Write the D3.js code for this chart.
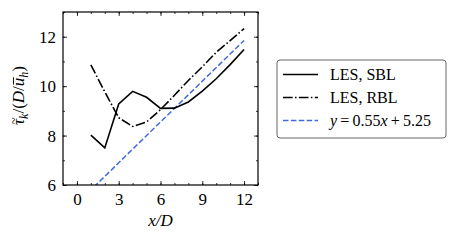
<!DOCTYPE html>
<html lang="en">
<head>
  <meta charset="UTF-8">
  <title>tau_k vs x/D</title>
  <style>
    body { margin: 0; padding: 0; background: #fff; }
  </style>
</head>
<body>
  <svg id="chart" width="458" height="245" font-family="Liberation Serif, serif"></svg>
  <script src="https://d3js.org/d3.v7.min.js"></script>
  <script>
    // data
    const xPos = [1, 2, 3, 4, 5, 6, 7, 8, 9, 10, 11, 12];
    const sbl = [8.02, 7.5, 9.28, 9.79, 9.55, 9.1, 9.11, 9.36, 9.8, 10.3, 10.87, 11.48];
    const rbl = [10.86, 9.77, 8.72, 8.37, 8.55, 9.05, 9.63, 10.23, 10.78, 11.37, 11.84, 12.33];
    const fitX = [0, 12];
    const slope = 0.55, intercept = 5.25;
    const xTicks = [0, 3, 6, 9, 12];
    const yTicks = [6, 8, 10, 12];

    const margin = { top: 12, left: 63 };
    const width = 195, height = 173;
    const serif = 'Liberation Serif, serif';

    const svg = d3.select('#chart');
    const g = svg.append('g')
      .attr('transform', `translate(${margin.left}, ${margin.top})`);

    const x = d3.scaleLinear().domain([-1, 13]).range([0, width]);
    const y = d3.scaleLinear().domain([6, 13]).range([height, 0]);

    g.append('clipPath').attr('id', 'clip')
      .append('rect').attr('width', width).attr('height', height);

    const line = d3.line().x(d => x(d[0])).y(d => y(d[1]));
    const plot = g.append('g').attr('clip-path', 'url(#clip)');

    // fitted line
    plot.append('path')
      .datum(fitX.map(v => [v, slope * v + intercept]))
      .attr('d', line)
      .attr('fill', 'none')
      .attr('stroke', '#4169e1')
      .attr('stroke-width', 1.5)
      .attr('stroke-dasharray', '5.5,2.4');

    plot.append('path')
      .datum(xPos.map((v, i) => [v, rbl[i]]))
      .attr('d', line)
      .attr('fill', 'none')
      .attr('stroke', '#000')
      .attr('stroke-width', 1.6)
      .attr('stroke-dasharray', '9.6,2.4,1.5,2.4');

    plot.append('path')
      .datum(xPos.map((v, i) => [v, sbl[i]]))
      .attr('d', line)
      .attr('fill', 'none')
      .attr('stroke', '#000')
      .attr('stroke-width', 1.6);

    // axes, ticks inward on all four sides
    const minorX = d3.range(-1, 14);
    const minorY = d3.range(6, 14);
    const styleAxis = sel => {
      sel.attr('font-family', serif).attr('font-size', 17);
      sel.select('.domain').remove();
      sel.selectAll('.tick line').attr('stroke', '#000').attr('stroke-width', 0.8);
      sel.selectAll('.tick text')
        .attr('fill', '#000')
        .attr('font-family', serif)
        .attr('font-size', 17);
    };

    g.append('g').attr('transform', `translate(0,${height})`)
      .call(d3.axisBottom(x).tickValues(xTicks).tickSize(-4).tickPadding(8).tickFormat(d3.format('d')))
      .call(styleAxis);
    g.append('g').attr('transform', `translate(0,${height})`)
      .call(d3.axisBottom(x).tickValues(minorX).tickSize(-2).tickFormat(''))
      .call(styleAxis);
    g.append('g')
      .call(d3.axisTop(x).tickValues(xTicks).tickSize(-4).tickFormat(''))
      .call(styleAxis);
    g.append('g')
      .call(d3.axisTop(x).tickValues(minorX).tickSize(-2).tickFormat(''))
      .call(styleAxis);

    g.append('g')
      .call(d3.axisLeft(y).tickValues(yTicks).tickSize(-4).tickPadding(7).tickFormat(d3.format('d')))
      .call(styleAxis);
    g.append('g')
      .call(d3.axisLeft(y).tickValues(minorY).tickSize(-2).tickFormat(''))
      .call(styleAxis);
    g.append('g').attr('transform', `translate(${width},0)`)
      .call(d3.axisRight(y).tickValues(yTicks).tickSize(-4).tickFormat(''))
      .call(styleAxis);
    g.append('g').attr('transform', `translate(${width},0)`)
      .call(d3.axisRight(y).tickValues(minorY).tickSize(-2).tickFormat(''))
      .call(styleAxis);

    g.append('rect')
      .attr('width', width).attr('height', height)
      .attr('fill', 'none').attr('stroke', '#000').attr('stroke-width', 1.2);

    // x label
    g.append('text')
      .attr('x', width / 2).attr('y', height + 41)
      .attr('text-anchor', 'middle')
      .attr('font-size', 17).attr('font-style', 'italic')
      .text('x/D');

    // y label: tau tilde_k / (D / u bar_h)
    const ylg = svg.append('g')
      .attr('transform', `translate(24, ${margin.top + height / 2 - 3}) rotate(-90)`);
    const yl = ylg.append('text')
      .attr('text-anchor', 'middle')
      .attr('font-size', 17).attr('font-style', 'italic');
    yl.append('tspan').text('\u03c4');
    yl.append('tspan').attr('dy', 4).attr('font-size', 12).text('k');
    yl.append('tspan').attr('dy', -4).attr('font-style', 'normal').text('/(');
    yl.append('tspan').text('D');
    yl.append('tspan').attr('font-style', 'normal').text('/');
    yl.append('tspan').text('u');
    yl.append('tspan').attr('dy', 4).attr('font-size', 12).text('h');
    yl.append('tspan').attr('dy', -4).attr('font-style', 'normal').text(')');

    const node = yl.node();
    const tauBox = node.getExtentOfChar(0);
    ylg.append('text')
      .attr('x', tauBox.x + tauBox.width / 2 + 1)
      .attr('y', -6.5)
      .attr('text-anchor', 'middle')
      .attr('font-size', 13)
      .text('~');
    const uBox = node.getExtentOfChar(6);
    ylg.append('line')
      .attr('x1', uBox.x + 1.5).attr('x2', uBox.x + uBox.width + 0.5)
      .attr('y1', -10.5).attr('y2', -10.5)
      .attr('stroke', '#000').attr('stroke-width', 0.9);

    // legend
    const legend = svg.append('g').attr('transform', 'translate(277, 60)');
    legend.append('rect')
      .attr('width', 169).attr('height', 78).attr('rx', 3)
      .attr('fill', '#fff').attr('stroke', '#666').attr('stroke-width', 1);

    const items = [
      { label: 'LES, SBL', color: '#000', dash: null },
      { label: 'LES, RBL', color: '#000', dash: '9.6,2.4,1.5,2.4' },
      { label: 'fit', color: '#4169e1', dash: '5.5,2.4' }
    ];
    items.forEach((d, i) => {
      const cy = 14.5 + i * 23;
      legend.append('line')
        .attr('x1', 6).attr('x2', 41).attr('y1', cy).attr('y2', cy)
        .attr('stroke', d.color).attr('stroke-width', 1.5)
        .attr('stroke-dasharray', d.dash);
      const t = legend.append('text')
        .attr('x', 53).attr('y', cy + 5.5)
        .attr('font-size', 16);
      if (i < 2) {
        t.text(d.label);
      } else {
        t.append('tspan').attr('font-style', 'italic').text('y');
        t.append('tspan').text('\u2009=\u20090.55');
        t.append('tspan').attr('font-style', 'italic').text('x');
        t.append('tspan').text('\u2009+\u20095.25');
      }
    });
  </script>
</body>
</html>
